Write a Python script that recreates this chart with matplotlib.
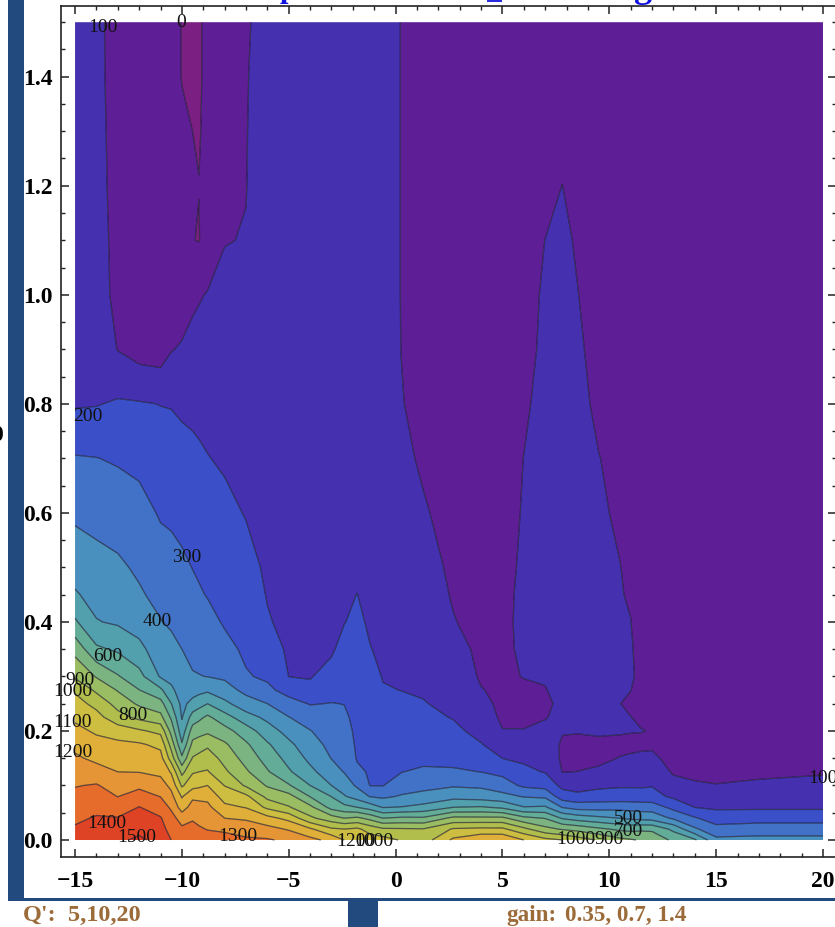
import numpy as np
import matplotlib
matplotlib.use("Agg")
import matplotlib.pyplot as plt
from matplotlib.patches import Rectangle
from matplotlib.ticker import MultipleLocator

W, H = 835, 927

# sample positions
x_values = [-15, -14, -13, -12, -11, -10.5, -10, -9.5, -9.2, -8.8, -8, -7, -6, -5, -4, -3, -2.4, -1.8, -1.2,
            -0.6, 0.3, 1.3, 2.7, 4, 5, 6, 7, 7.8, 8.5, 9.5, 10.5, 11, 11.5, 12, 13, 14, 15, 17, 20]
y_values = [0, .02, .04, .06, .08, .10, .125, .15, .175, .2, .225, .25, .275, .30,
            .35, .40, .45, .50, .60, .70, .80, .90, 1.0, 1.1, 1.2, 1.3, 1.4, 1.5]

# one column of values for each x, read bottom to top
z_columns = [
    [1440,1411,1383,1354,1325,1295,1256,1216,1173,1127,1082,1039,986,885, 767,614,510,462,381,307,190,170,160,155,150,145,140,140],
    [1460,1434,1408,1376,1342,1308,1238,1178,1133,1086,1035,970,880,792, 617,505,468,434,367,302,195,165,150,140,130,125,120,118],
    [1480,1443,1405,1353,1298,1254,1200,1162,1123,1052,938,863,793,708, 585,487,452,416,354,290,211,97,70,70,70,70,70,70],
    [1520,1473,1436,1403,1342,1279,1197,1155,1113,1015,875,784,702,633, 524,461,411,385,337,273,207,60,60,60,60,60,60,60],
    [1465,1430,1407,1358,1297,1243,1177,1135,1076,973,830,738,620,490, 449,404,374,345,290,245,198,50,50,50,45,45,40,40],
    [1400,1370,1340,1283,1230,1175,1089,955,862,767,685,603,520,470, 430,385,360,330,285,245,195,95,55,50,40,30,25,25],
    [1370,1320,1255,1155,1090,985,870,720,610,540,493,474,455,437, 400,370,345,318,270,230,185,110,50,35,25,10,-2,-2],
    [1350,1320,1293,1240,1180,1065,990,907,828,745,643,530,460,408, 372,344,322,298,260,225,175,130,80,2,8,0,-4,-4],
    [1346,1310,1278,1233,1177,1080,1000,930,850,762,677,560,470,403, 369,337,310,287,250,215,172,135,92,-3,1,-4,-5,-5],
    [1340,1296,1260,1224,1174,1100,1008,950,882,779,719,600,482,398, 365,330,295,275,240,203,170,140,105,40,25,15,10,10],
    [1330,1287,1200,1125,1055,997,918,868,816,737,640,525,438,385, 328,290,273,258,223,188,160,140,122,97,55,50,45,45],
    [1315,1260,1186,1095,1023,886,815,762,716,647,542,440,375,308, 283,266,248,231,195,165,150,135,125,103,98,96,93,85],
    [1310,1233,1133,978,870,790,710,660,613,546,476,400,320,285, 247,208,195,185,170,160,150,148,145,145,148,150,150,150],
    [1280,1190,1070,908,835,710,613,567,522,465,403,333,266,199, 185,175,170,165,160,155,150,150,150,155,160,165,165,165],
    [1230,1115,920,825,695,600,525,476,440,404,350,295,218,195, 190,180,175,170,165,160,160,160,165,170,170,170,170,170],
    [1170,1015,844,665,597,500,442,397,374,350,326,303,267,230, 188,180,175,170,165,160,160,165,170,170,175,175,175,175],
    [1100,1000,800,630,508,453,395,378,358,338,318,298,280,265, 231,197,185,175,170,165,165,170,170,175,175,175,175,175],
    [1060,1018,820,600,457,385,320,292,284,277,270,263,256,250, 236,222,201,180,170,165,165,170,170,175,175,175,175,175],
    [1050,960,770,555,395,298,290,280,271,261,252,242,233,223, 204,185,175,170,165,160,160,160,165,170,170,170,170,170],
    [1040,915,700,495,380,297,283,270,257,244,230,217,204,197, 180,170,165,160,150,145,135,130,130,130,130,130,130,130],
    [990,910,720,505,410,350,299,280,262,240,225,212,199,190, 170,155,145,135,125,115,103,98,97,97,97,97,97,97],
    [950,905,715,530,430,370,310,285,265,245,225,205,190,175, 155,135,130,125,107,90,75,70,70,70,70,70,70,70],
    [1120,1010,825,600,465,390,310,278,250,222,195,175,160,145, 125,103,95,88,75,65,55,50,50,50,50,50,50,50],
    [1190,1022,822,610,450,383,299,252,205,170,148,125,103,92, 85,80,75,70,60,55,50,50,50,50,50,50,50,50],
    [1190,1020,822,580,430,345,275,199,155,103,85,80,85,90, 90,90,88,85,75,65,55,50,45,45,45,45,45,45],
    [1100,925,728,505,393,282,220,185,155,103,85,80,90,102, 108,110,110,108,105,101,88,70,60,55,50,45,45,45],
    [1030,830,695,513,380,264,195,170,145,115,97,85,97,106, 112,118,120,122,125,128,125,120,115,101,65,50,45,45],
    [1001,790,590,395,245,175,98,85,90,105,115,118,122,128, 135,140,140,140,140,140,138,135,130,120,101,60,45,45],
    [950,768,555,360,225,160,101,75,85,104,112,115,118,122, 128,130,130,130,130,128,122,115,103,90,60,50,45,45],
    [890,720,525,358,240,180,115,80,88,108,115,118,118,118, 118,118,115,112,108,102,85,70,60,55,50,50,45,45],
    [825,680,499,365,240,190,140,103,80,108,108,101,102,105, 106,105,103,101,92,80,70,60,55,50,50,45,45,45],
    [810,670,480,360,240,190,150,108,85,103,101,88,101,108, 106,101,95,90,80,72,65,55,50,50,45,45,45,45],
    [790,680,470,355,235,190,150,115,85,102,90,85,80,85, 80,75,75,70,65,60,55,50,45,45,45,45,45,45],
    [770,680,460,355,230,195,155,115,88,97,85,75,70,70, 65,60,60,60,55,50,50,45,45,45,45,45,45,45],
    [680,575,385,270,183,130,90,75,65,60,55,50,50,50, 45,45,45,45,45,45,45,45,45,45,45,45,45,45],
    [615,415,310,199,150,108,85,70,60,55,50,45,45,45, 45,45,45,45,45,45,45,45,45,45,45,45,45,45],
    [425,335,250,185,140,102,85,70,60,55,50,45,45,45, 45,45,45,45,45,45,45,45,45,45,45,45,45,45],
    [430,350,260,185,150,110,88,72,60,55,50,45,45,45, 45,45,45,45,45,45,45,45,45,45,45,45,45,45],
    [430,350,260,185,155,125,92,75,62,55,50,45,45,45, 45,45,45,45,45,45,45,45,45,45,45,45,45,45],
]

contour_levels = [-10, 0, 100, 200, 300, 400, 500, 600, 700, 800, 900, 1000, 1100, 1200, 1300, 1400, 1500, 1600]
band_colors = ['#7B1F82', '#5E1E96', '#4530B0', '#3B50C8', '#4272C8', '#4A90BE', '#529FAE', '#62AC98', '#7CB481',
               '#9ABC62', '#B2BE4C', '#CDBD40', '#E0AF3A', '#E59535', '#E66C2C', '#DF4326', '#DA3522']

# in-plot level labels: text, x, y
level_labels = [("100", -13.7, 1.49), ("0", -10.05, 1.50), ("200", -14.4, .776), ("300", -9.76, .519),
                ("400", -11.17, .40), ("600", -13.47, .336), ("900", -14.77, .293), ("1000", -15.1, .272),
                ("800", -12.3, .228), ("1100", -15.1, .215), ("1200", -15.1, .16), ("1400", -13.5, .031),
                ("1500", -12.1, .004), ("1300", -7.4, .007), ("1200", -1.85, -.002), ("1000", -1.0, -.002),
                ("1000", 8.45, .001), ("900", 10.0, .001), ("500", 10.9, .039), ("700", 10.9, .016),
                ("100", 20.0, .112)]

x_tick_values = [-15, -10, -5, 0, 5, 10, 15, 20]
x_tick_labels = ['\u221215', '\u221210', '\u22125', '0', '5', '10', '15', '20']
y_tick_values = [0.0, 0.2, 0.4, 0.6, 0.8, 1.0, 1.2, 1.4]
y_tick_labels = ['0.0', '0.2', '0.4', '0.6', '0.8', '1.0', '1.2', '1.4']

NAVY = '#224A7E'
BROWN = '#9C6B3A'
SERIF = 'Liberation Serif'

fig = plt.figure(figsize=(W / 100, H / 100), dpi=100, facecolor='white')
L, R, T, B = 60.7, 836, 5.7, 857
ax = fig.add_axes([L / W, 1 - B / H, (R - L) / W, (B - T) / H])

Z = np.array(z_columns, dtype=float).T
ax.contourf(x_values, y_values, Z, levels=contour_levels, colors=band_colors, antialiased=True)
ax.contour(x_values, y_values, Z, levels=contour_levels[1:-1], colors='#15152a', linewidths=0.9, alpha=0.65)

ax.set_xlim((L - 395.6) / 21.37, (R - 395.6) / 21.37)
ax.set_ylim((840 - B) / 545.2, (840 - T) / 545.2)

ax.set_xticks(x_tick_values)
ax.set_xticklabels(x_tick_labels, fontfamily=SERIF, fontweight='bold', fontsize=17)
ax.set_yticks(y_tick_values)
ax.set_yticklabels(y_tick_labels, fontfamily=SERIF, fontweight='bold', fontsize=17)
ax.xaxis.set_minor_locator(MultipleLocator(1))
ax.yaxis.set_minor_locator(MultipleLocator(0.05))
ax.tick_params(which='major', direction='in', length=6, width=1.1, top=True, right=True, color='#222222')
ax.tick_params(which='minor', direction='in', length=3, width=1.0, top=True, right=True, color='#222222')
ax.tick_params(axis='x', which='major', pad=10)
ax.tick_params(axis='y', which='major', pad=6)
for s in ax.spines.values():
    s.set_linewidth(1.2)
    s.set_color('#222222')

for text, lx, ly in level_labels:
    ax.text(lx, ly, text, ha='center', va='center', fontfamily=SERIF, fontsize=14, color='#111111', clip_on=False)

def px_rect(x0, y0, x1, y1, color):
    fig.add_artist(Rectangle((x0 / W, 1 - y1 / H), (x1 - x0) / W, (y1 - y0) / H, transform=fig.transFigure,
                             facecolor=color, edgecolor='none', zorder=5))

px_rect(8, 0, 24, 900, NAVY)
px_rect(8, 898, 835, 901, NAVY)
px_rect(348, 901, 378, 927, NAVY)
px_rect(487, 0, 502, 1.5, '#2A2AE0')

def px_text(x, y, s, **kw):
    fig.text(x / W, 1 - y / H, s, fontfamily=SERIF, **kw)

px_text(23, 921, "Q':", color=BROWN, fontsize=17.5, fontweight='bold', ha='left', va='baseline')
px_text(68, 921, "5,10,20", color=BROWN, fontsize=17.5, fontweight='bold', ha='left', va='baseline')
px_text(506, 921, "gain:", color=BROWN, fontsize=16.7, fontweight='bold', ha='left', va='baseline')
px_text(565, 921, "0.35, 0.7, 1.4", color=BROWN, fontsize=16.7, fontweight='bold', ha='left', va='baseline')

# cut-off glyphs along the image edges
px_text(288, -3, "p", color='#1010E0', fontsize=22, fontweight='bold', ha='center', va='baseline')
px_text(643, -3, "g", color='#1010E0', fontsize=26, fontweight='bold', ha='center', va='baseline')
px_text(3, 441, "0", color='black', fontsize=17, fontweight='bold', ha='right', va='baseline')

fig.savefig('out.png', dpi=100, facecolor='white')
